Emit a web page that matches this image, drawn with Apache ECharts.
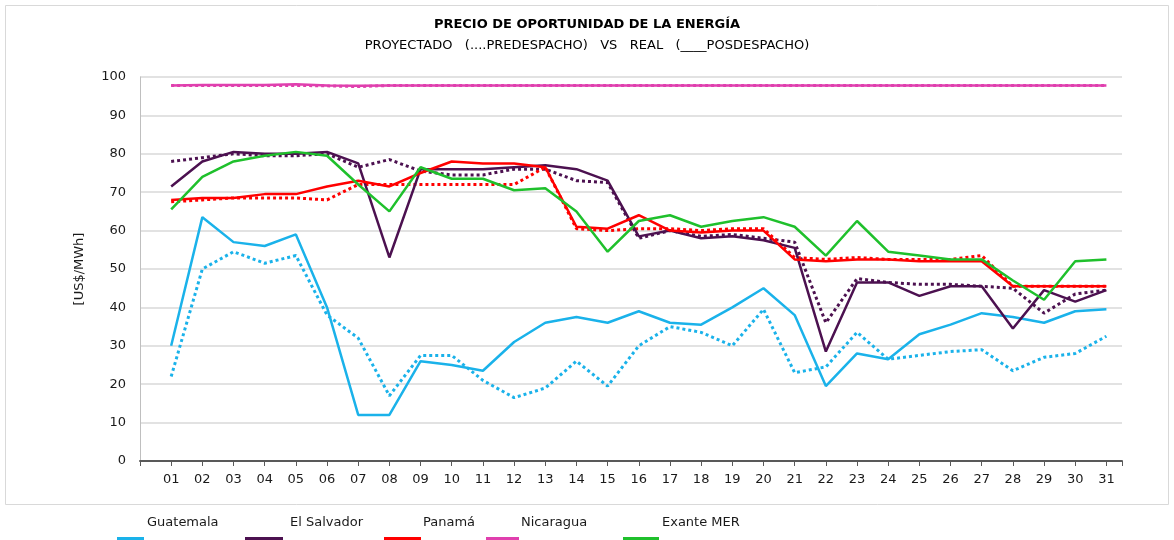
<!DOCTYPE html>
<html>
<head>
<meta charset="utf-8">
<script src="https://cdn.jsdelivr.net/npm/echarts@6/dist/echarts.min.js"></script>
<style>
  html, body { margin: 0; padding: 0; background: #fff; }
  #main { width: 1174px; height: 540px; }
</style>
</head>
<body>
<div id="main"></div>
<script>
var days = ['01','02','03','04','05','06','07','08','09','10','11','12','13','14','15','16',
            '17','18','19','20','21','22','23','24','25','26','27','28','29','30','31'];

// real (posdespacho) - solid
var guatemalaReal = [30, 63.5, 57, 56, 59, 40, 12, 12, 26, 25, 23.5, 31, 36, 37.5, 36, 39,
                     36, 35.5, 40, 45, 38, 19.5, 28, 26.5, 33, 35.5, 38.5, 37.5, 36, 39, 39.5];
var salvadorReal = [71.5, 78, 80.5, 80, 80, 80.5, 77.5, 53, 76, 76, 76, 76.5, 77, 76, 73, 58.5,
                    60, 58, 58.5, 57.5, 55.5, 28.5, 46.5, 46.5, 43, 45.5, 45.5, 34.5, 44.5, 41.5, 44.5];
var panamaReal = [68, 68.5, 68.5, 69.5, 69.5, 71.5, 73, 71.5, 75, 78, 77.5, 77.5, 76.5, 61, 60.5, 64,
                  60, 59.5, 60, 60, 52.5, 52, 52.5, 52.5, 52, 52, 52, 45.5, 45.5, 45.5, 45.5];
var nicaraguaReal = [97.8, 97.9, 97.9, 97.9, 98.1, 97.8, 97.7, 97.8, 97.8, 97.8, 97.8, 97.8, 97.8, 97.8, 97.8, 97.8,
                     97.8, 97.8, 97.8, 97.8, 97.8, 97.8, 97.8, 97.8, 97.8, 97.8, 97.8, 97.8, 97.8, 97.8, 97.8];
var exanteMer = [65.5, 74, 78, 79.5, 80.5, 79.5, 72, 65, 76.5, 73.5, 73.5, 70.5, 71, 65, 54.5, 62.5,
                 64, 61, 62.5, 63.5, 61, 53.5, 62.5, 54.5, 53.5, 52.5, 52.5, 47, 42, 52, 52.5];

// projected (predespacho) - dotted
var guatemalaPre = [22, 50, 54.5, 51.5, 53.5, 38, 32, 17, 27.5, 27.5, 21, 16.5, 19, 26, 19.5, 30,
                    35, 33.5, 30, 39.5, 23, 24.5, 33.5, 26.5, 27.5, 28.5, 29, 23.5, 27, 28, 32.5];
var salvadorPre = [78, 79, 80, 79.5, 79.5, 80, 76.5, 78.5, 75.5, 74.5, 74.5, 76, 76, 73, 72.5, 58,
                   60, 58.5, 59, 58, 57, 36, 47.5, 46.5, 46, 46, 45.5, 45, 38.5, 43.5, 44.5];
var panamaPre = [67.5, 68, 68.5, 68.5, 68.5, 68, 72, 72, 72, 72, 72, 72, 76.5, 60.5, 60, 60.5,
                 60.5, 60, 60.5, 60.5, 53, 52.5, 53, 52.5, 52.5, 52.5, 53.5, 45.5, 45.5, 45.5, 45.5];
var nicaraguaPre = [97.8, 97.8, 97.8, 97.8, 97.8, 97.7, 97.5, 97.8, 97.8, 97.8, 97.8, 97.8, 97.8, 97.8, 97.8, 97.8,
                    97.8, 97.8, 97.8, 97.8, 97.8, 97.8, 97.8, 97.8, 97.8, 97.8, 97.8, 97.8, 97.8, 97.8, 97.8];

var legendNames = ['Guatemala', 'El Salvador', 'Panamá', 'Nicaragua', 'Exante MER'];
var colors = ['#1ab2ea', '#4c1150', '#ff0000', '#e03fae', '#1fc02c'];

var FONT = '"DejaVu Sans", Verdana, sans-serif';

function pts(arr) {
  return arr.map(function (v, i) { return [i + 1, v]; });
}

function line(name, data, color, dotted) {
  return {
    name: name,
    type: 'line',
    data: pts(data),
    symbol: 'none',
    lineStyle: { color: color, width: dotted ? 3 : 2.5, type: dotted ? [3, 3] : 'solid' },
    itemStyle: { color: color },
    z: dotted ? 2 : 3
  };
}

// legend drawn as text with a coloured bar below-left, like the source
var legendX = [147, 290, 423, 521, 662];
var barX = [117, 245, 384, 486, 623];
var barW = [27, 38, 37, 33, 36];
var legendGraphics = [];
legendNames.forEach(function (n, i) {
  legendGraphics.push({
    type: 'text', left: legendX[i], top: 516,
    style: { text: n, fill: '#1a1a1a', font: '13px ' + FONT }
  });
  legendGraphics.push({
    type: 'rect', shape: { x: barX[i], y: 537, width: barW[i], height: 4 },
    style: { fill: colors[i] }
  });
});

var myChart = echarts.init(document.getElementById('main'), null, { renderer: 'canvas' });

var option = {
  animation: false,
  backgroundColor: '#fff',
  title: {
    text: 'PRECIO DE OPORTUNIDAD DE LA ENERGÍA',
    subtext: 'PROYECTADO   (....PREDESPACHO)   VS   REAL   (____POSDESPACHO)',
    left: 'center',
    top: 13,
    itemGap: 8,
    textStyle: { fontSize: 13, fontWeight: 'bold', color: '#000', fontFamily: 'DejaVu Sans' },
    subtextStyle: { fontSize: 13, color: '#000', fontFamily: 'DejaVu Sans' }
  },
  tooltip: { trigger: 'axis' },
  grid: { left: 140, right: 52, top: 77, bottom: 79 },
  xAxis: {
    type: 'value',
    min: 0,
    max: 31.5,
    interval: 1,
    axisLine: { lineStyle: { color: '#595959', width: 2 } },
    axisTick: { show: true, length: 5, lineStyle: { color: '#595959' } },
    splitLine: { show: false },
    axisLabel: {
      color: '#1a1a1a', fontSize: 13, margin: 12, fontFamily: 'DejaVu Sans',
      formatter: function (v) { return (v >= 1 && v <= 31 && v % 1 === 0) ? days[v - 1] : ''; }
    }
  },
  yAxis: {
    type: 'value',
    min: 0,
    max: 100,
    interval: 10,
    name: '[US$/MWh]',
    nameLocation: 'middle',
    nameGap: 54,
    nameTextStyle: { fontSize: 13, color: '#1a1a1a', fontFamily: 'DejaVu Sans' },
    axisLine: { show: true, lineStyle: { color: '#bfbfbf', width: 1 } },
    axisTick: { show: false },
    splitLine: { lineStyle: { color: '#d9d9d9', width: 1.5 } },
    axisLabel: { color: '#1a1a1a', fontSize: 13, margin: 14, fontFamily: 'DejaVu Sans' }
  },
  graphic: [{
    type: 'rect', shape: { x: 5.5, y: 5.5, width: 1163, height: 499 },
    style: { fill: 'none', stroke: '#d9d9d9', lineWidth: 1 }, silent: true, z: -10
  }].concat(legendGraphics),
  series: [
    line('Guatemala (predespacho)', guatemalaPre, colors[0], true),
    line('El Salvador (predespacho)', salvadorPre, colors[1], true),
    line('Panamá (predespacho)', panamaPre, colors[2], true),
    line('Nicaragua (predespacho)', nicaraguaPre, colors[3], true),
    line('Guatemala', guatemalaReal, colors[0], false),
    line('El Salvador', salvadorReal, colors[1], false),
    line('Panamá', panamaReal, colors[2], false),
    line('Nicaragua', nicaraguaReal, colors[3], false),
    line('Exante MER', exanteMer, colors[4], false)
  ]
};

option && myChart.setOption(option);
</script>
</body>
</html>
